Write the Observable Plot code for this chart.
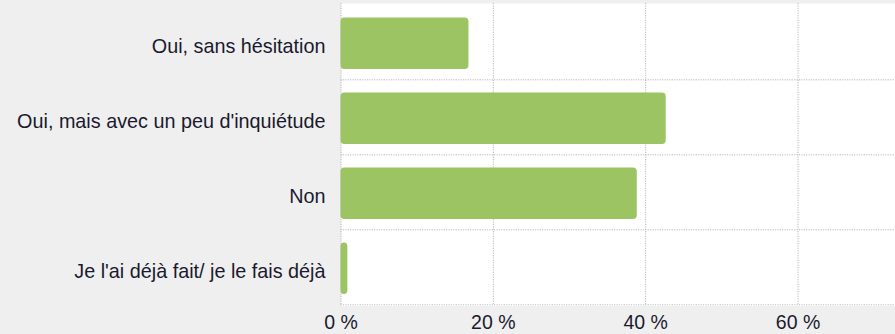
<!DOCTYPE html>
<html>
<head>
<meta charset="utf-8">
<script src="https://cdn.jsdelivr.net/npm/d3@7"></script>
<script src="https://cdn.jsdelivr.net/npm/@observablehq/plot@0.6"></script>
<style>
  html, body { margin: 0; padding: 0; background: #efefef; }
  #chart svg { display: block; }
</style>
</head>
<body>
<div id="chart"></div>
<script>
// Survey answers and their share of respondents (%)
const answers = [
  "Oui, sans hésitation",
  "Oui, mais avec un peu d'inquiétude",
  "Non",
  "Je l'ai déjà fait/ je le fais déjà"
];
const shares = [16.8, 42.7, 38.9, 0.9];
const xTicks = [0, 20, 40, 60];

const rows = answers.map((answer, i) => ({answer, share: shares[i]}));

const width = 895;
const height = 334;
const marginTop = 3;
const marginBottom = 28.5;
const marginLeft = 340.5;
const halfStep = (height - marginTop - marginBottom) / answers.length / 2;

const chart = Plot.plot({
  width,
  height,
  marginTop,
  marginBottom,
  marginLeft,
  marginRight: 0,
  style: {
    background: "#efefef",
    fontFamily: "'Liberation Sans', Arial, sans-serif",
    fontSize: "19.5px",
    color: "#1a1a2e"
  },
  x: {
    domain: [0, 72.8],
    ticks: xTicks,
    tickFormat: d => `${d} %`,
    tickSize: 0,
    tickPadding: 9.5,
    label: null
  },
  y: {
    domain: answers,
    padding: 0,
    axis: null
  },
  marks: [
    // white plotting area
    Plot.frame({fill: "white", stroke: "none"}),
    // dotted vertical grid
    Plot.ruleX(xTicks, {stroke: "#b8b8b8", strokeDasharray: "1.2,1.2"}),
    // dotted line under each answer band
    Plot.ruleY(answers, {y: d => d, dy: halfStep, stroke: "#b8b8b8", strokeDasharray: "1.2,1.2"}),
    Plot.barX(rows, {
      x: "share",
      y: "answer",
      fill: "#9cc463",
      insetTop: 13.5,
      insetBottom: 10,
      rx: 4
    }),
    // answer labels to the left of the bars
    Plot.text(answers, {
      y: d => d,
      frameAnchor: "left",
      textAnchor: "end",
      dx: -15.5,
      dy: 5,
      fill: "#1a1a2e",
      fontSize: 19.8
    })
  ]
});

document.getElementById("chart").appendChild(chart);
</script>
</body>
</html>
